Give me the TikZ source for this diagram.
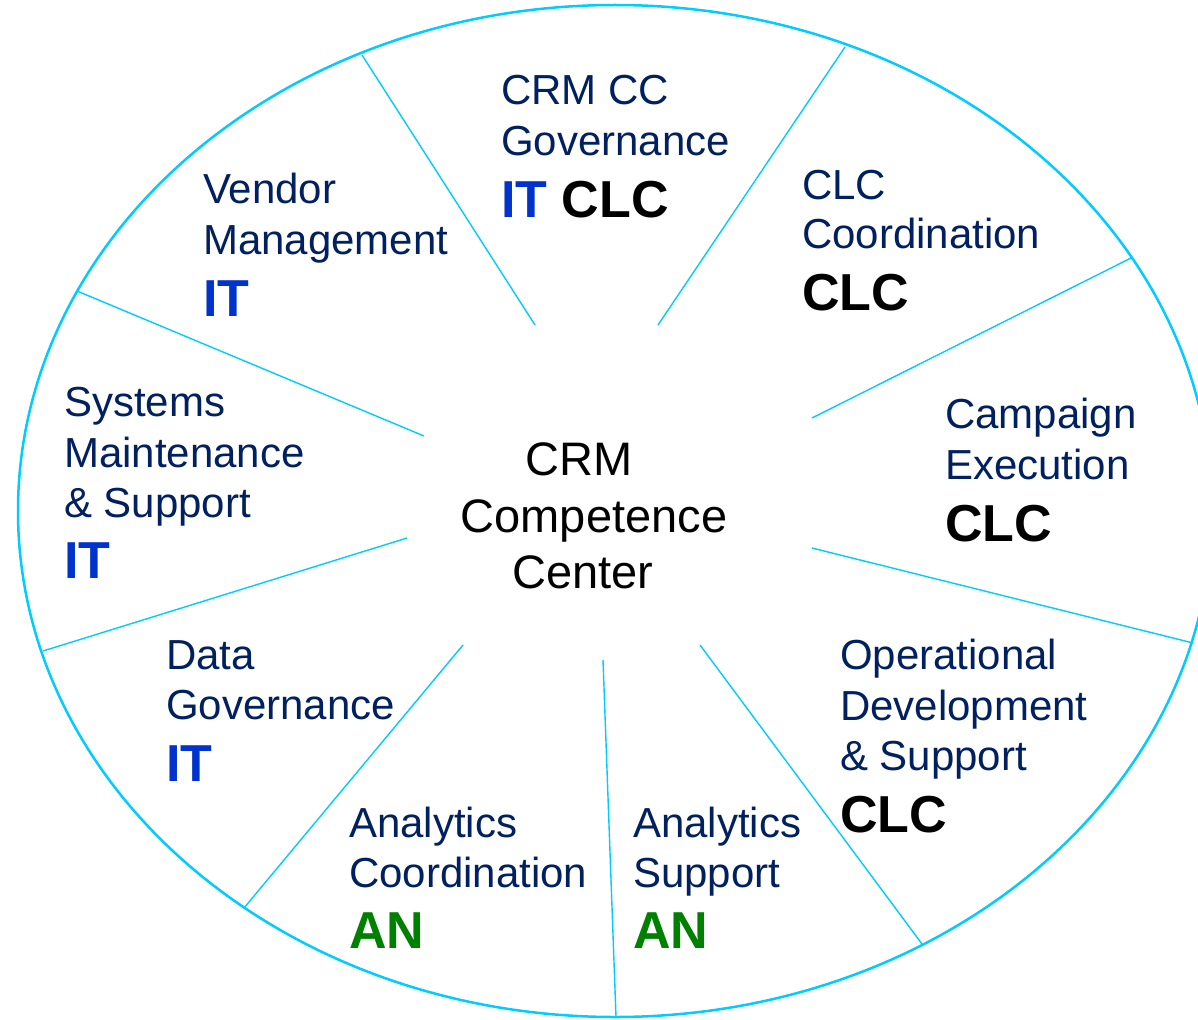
\documentclass[tikz,border=0pt]{standalone}
\usepackage{fontspec}
\setmainfont{Liberation Sans}
\definecolor{ring}{HTML}{00CCFF}
\definecolor{navy}{HTML}{002060}
\definecolor{itblue}{HTML}{0033CC}
\definecolor{angreen}{HTML}{008000}
\tikzset{
 ln/.style={anchor=base west, inner sep=0pt, text=navy, font=\fontsize{42}{48}\selectfont},
 tagit/.style={anchor=base west, inner sep=0pt, text=itblue, font=\fontsize{52}{60}\selectfont\bfseries},
 tagclc/.style={anchor=base west, inner sep=0pt, text=black, font=\fontsize{52}{60}\selectfont\bfseries},
 tagan/.style={anchor=base west, inner sep=0pt, text=angreen, font=\fontsize{52}{60}\selectfont\bfseries},
 spoke/.style={draw=ring, line width=1.4pt},
 rim/.style={draw=ring, line width=2.5pt},
 ctr/.style={anchor=base, inner sep=0pt, text=black, font=\fontsize{47}{56}\selectfont}
}
\begin{document}
\begin{tikzpicture}[x=1pt,y=-1pt]
\useasboundingbox (0,0) rectangle (1198,1019);
\fill[white] (0,0) rectangle (1198,1019);
% rim
\draw[rim] (615,511) ellipse [x radius=597pt, y radius=506pt];
% spokes
\coordinate (i1) at (535,325); \coordinate (o1) at (362,55);
\coordinate (i2) at (658,325); \coordinate (o2) at (845,47);
\coordinate (i3) at (812,418); \coordinate (o3) at (1131,258);
\coordinate (i4) at (812,548); \coordinate (o4) at (1193,643);
\coordinate (i5) at (700,645); \coordinate (o5) at (922,944);
\coordinate (i6) at (603,660); \coordinate (o6) at (616,1017);
\coordinate (i7) at (463,645); \coordinate (o7) at (244,908);
\coordinate (i8) at (407,538); \coordinate (o8) at (43,651);
\coordinate (i9) at (424,436); \coordinate (o9) at (77,291);
\foreach \k in {1,...,9} {\draw[spoke] (i\k) -- (o\k);}
% centre
\node[ctr] (c1) at (579,475) {CRM};
\node[ctr] (c2) at (594,532) {Competence};
\node[ctr] (c3) at (583,588) {Center};
% Vendor Management
\node[ln] (vm1) at (203,203) {Vendor};
\node[ln] (vm2) at (203,254) {Management};
\node[tagit] (vm3) at (203,316) {IT};
% CRM CC Governance
\node[ln] (cc1) at (501,105) {CRM CC};
\node[ln] (cc2) at (501,156) {Governance};
\node[tagit] (cc3) at (501,217) {IT \textcolor{black}{CLC}};
% CLC Coordination
\node[ln] (cl1) at (802,199) {CLC};
\node[ln] (cl2) at (802,248) {Coordination};
\node[tagclc] (cl3) at (802,310) {CLC};
% Campaign Execution
\node[ln] (ce1) at (945,428) {Campaign};
\node[ln] (ce2) at (945,479) {Execution};
\node[tagclc] (ce3) at (945,541) {CLC};
% Operational Development
\node[ln] (od1) at (840,669) {Operational};
\node[ln] (od2) at (840,720) {Development};
\node[ln] (od3) at (840,770) {\& Support};
\node[tagclc] (od4) at (840,832) {CLC};
% Analytics Support
\node[ln] (as1) at (633,837) {Analytics};
\node[ln] (as2) at (633,887) {Support};
\node[tagan] (as3) at (633,948) {AN};
% Analytics Coordination
\node[ln] (ac1) at (349,837) {Analytics};
\node[ln] (ac2) at (349,887) {Coordination};
\node[tagan] (ac3) at (349,948) {AN};
% Data Governance
\node[ln] (dg1) at (166,669) {Data};
\node[ln] (dg2) at (166,719) {Governance};
\node[tagit] (dg3) at (166,781) {IT};
% Systems Maintenance
\node[ln] (sm1) at (64,416) {Systems};
\node[ln] (sm2) at (64,467) {Maintenance};
\node[ln] (sm3) at (64,517) {\& Support};
\node[tagit] (sm4) at (64,578) {IT};
\end{tikzpicture}
\end{document}
